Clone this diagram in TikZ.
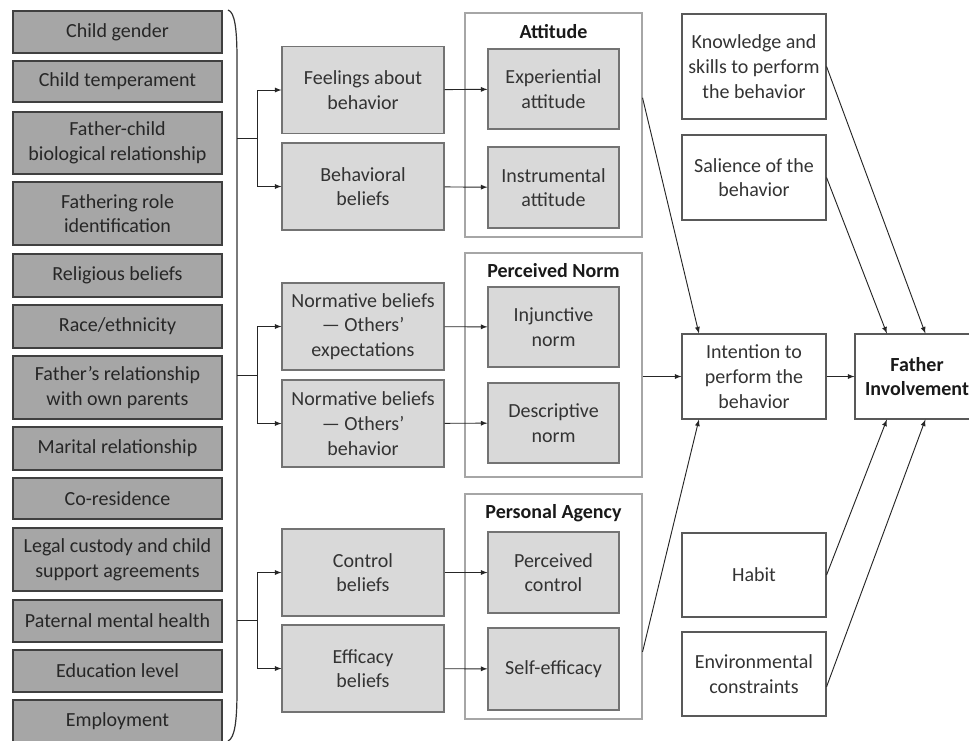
\documentclass[tikz,border=0pt]{standalone}
\usepackage{fontspec}
\setmainfont{Carlito}

\begin{document}
\begin{tikzpicture}[> = latex, x = 0.75pt, y = -0.75pt,
	every node/.style = {font = \fontsize{15}{18.5}\selectfont, align = center, inner sep = 0pt},
	factor/.style = {draw = black!75, fill = gray!70, line width = 1pt, text = black!85, minimum width = 209*0.75pt},
	belief/.style = {draw = black!55, fill = gray!30, line width = 0.8pt, text = black!80, minimum width = 162*0.75pt, minimum height = 87*0.75pt},
	inner/.style = {draw = black!55, fill = gray!30, line width = 0.8pt, text = black!80, minimum width = 131*0.75pt, minimum height = 81*0.75pt},
	group/.style = {draw = black!35, line width = 0.8pt, minimum width = 177*0.75pt, minimum height = 224*0.75pt},
	title/.style = {font = \fontsize{15}{18.5}\selectfont\bfseries, text = black!90},
	outcome/.style = {draw = black!65, line width = 0.8pt, text = black!80, minimum width = 144*0.75pt},
	link/.style = {->, black!85, line width = 0.7pt}]

	\useasboundingbox (0, 0) rectangle (969, 740);

	% Background factors

	\foreach \n/\y/\h/\t in {1/32/42/Child gender, 2/81.5/41/Child temperament,
		3/143/62/{Father-child\\biological relationship}, 4/213.5/63/{Fathering role\\identification},
		5/275.5/43/Religious beliefs, 6/326.5/43/{Race/ethnicity},
		7/387.5/63/{Father's relationship\\with own parents}, 8/448.5/43/Marital relationship,
		9/498.5/41/Co-residence, 10/559.5/63/{Legal custody and child\\support agreements},
		11/621/42/Paternal mental health, 12/671/42/Education level, 13/721.5/43/Employment}
		\node [factor, minimum height = \h*0.75pt] (f\n) at (117.5, \y) {\t};

	% Brace round the factors

	\draw [black!80, line width = 0.9pt] (228, 10) .. controls (235, 12) and (237, 30) .. (237, 60)
		-- (237, 690) .. controls (237, 720) and (235, 738) .. (228, 741);

	% Beliefs

	\node [belief] (feel) at (363, 90) {Feelings about\\behavior};
	\node [belief] (behav) at (363, 186.5) {Behavioral\\beliefs};
	\node [belief] (norm-exp) at (363, 326.5) {Normative beliefs\\--- Others'\\expectations};
	\node [belief] (norm-beh) at (363, 423.5) {Normative beliefs\\--- Others'\\behavior};
	\node [belief] (ctrl) at (363, 572.5) {Control\\beliefs};
	\node [belief] (effi) at (363, 668.5) {Efficacy\\beliefs};

	% Branches from the brace

	\foreach \n/\y/\a/\b in {1/138/feel/behav, 2/375/norm-exp/norm-beh, 3/620.5/ctrl/effi}
	{
		\coordinate (br\n) at (237, \y);
		\draw [link] (br\n) -- ++(20, 0) |- (\a);
		\draw [link] (br\n) -- ++(20, 0) |- (\b);
	}

	% Groups

	\node [group] (att) at (553.5, 125) {};
	\node [group] (norm) at (553.5, 365) {};
	\node [group, minimum height = 225*0.75pt] (agency) at (553.5, 606.5) {};

	\node [title] (att-title) at (553.5, 32) {Attitude};
	\node [title] (norm-title) at (553.5, 271) {Perceived Norm};
	\node [title] (agency-title) at (553.5, 513) {Personal Agency};

	\node [inner, minimum height = 80*0.75pt] (exper) at (553.5, 89) {Experiential\\attitude};
	\node [inner] (instr) at (553.5, 187.5) {Instrumental\\attitude};
	\node [inner, minimum height = 80*0.75pt] (injunc) at (553.5, 327) {Injunctive\\norm};
	\node [inner, minimum height = 80*0.75pt] (descr) at (553.5, 423) {Descriptive\\norm};
	\node [inner] (pcontrol) at (553.5, 572.5) {Perceived\\control};
	\node [inner, minimum height = 82*0.75pt] (selfeff) at (553.5, 669) {Self-efficacy};

	\draw [link] (feel) -- (exper);
	\draw [link] (behav) -- (instr);
	\draw [link] (norm-exp) -- (injunc);
	\draw [link] (norm-beh) -- (descr);
	\draw [link] (ctrl) -- (pcontrol);
	\draw [link] (effi) -- (selfeff);

	% Right column

	\node [outcome, minimum height = 105*0.75pt] (know) at (754, 66.5) {Knowledge and\\skills to perform\\the behavior};
	\node [outcome, minimum height = 85*0.75pt] (sal) at (754, 177.5) {Salience of the\\behavior};
	\node [outcome, minimum height = 85*0.75pt] (intent) at (754, 376.5) {Intention to\\perform the\\behavior};
	\node [outcome, minimum height = 84*0.75pt] (habit) at (754, 575) {Habit};
	\node [outcome, minimum height = 84*0.75pt] (env) at (754, 674) {Environmental\\constraints};
	\node [outcome, minimum width = 124*0.75pt, minimum height = 85*0.75pt,
		font = \fontsize{15}{18.5}\selectfont\bfseries, text = black!90] (father) at (917, 376.5) {Father\\Involvement};

	% Paths to intention and involvement

	\draw [link] (att.17.6) -- (intent.142.3);
	\draw [link] (norm.east |- intent.west) -- (intent.west);
	\draw [link] (agency.-27.7) -- (intent.-142.3);
	\draw [link] (intent) -- (father);

	\draw [link] (know.east) -- (father.79.3);
	\draw [link] (sal.east) -- (father.125.2);
	\draw [link] (habit.east) -- (father.-125.2);
	\draw [link] (env.-10.2) -- (father.-79.3);

\end{tikzpicture}
\end{document}
